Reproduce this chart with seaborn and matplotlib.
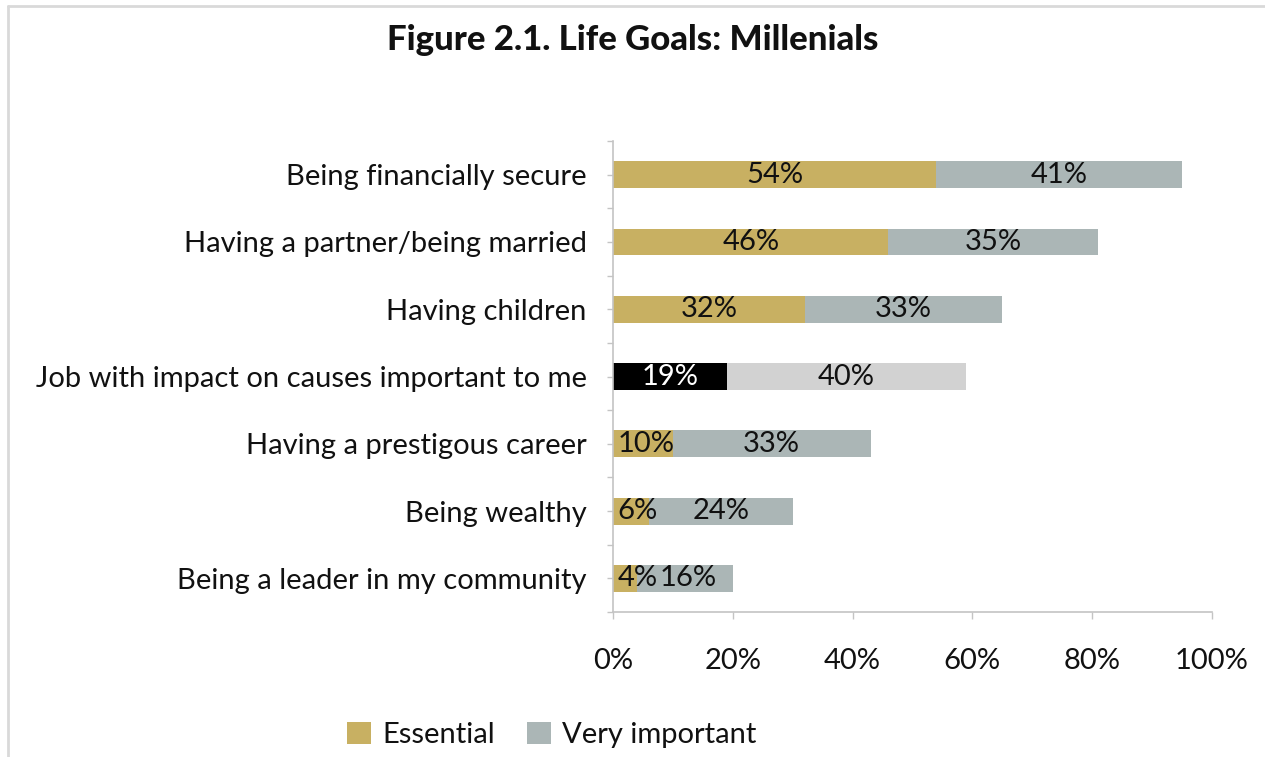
import matplotlib
matplotlib.use("Agg")
import matplotlib.pyplot as plt
from matplotlib.patches import Patch
from matplotlib.lines import Line2D
from matplotlib.ticker import FixedLocator, PercentFormatter
import seaborn as sns
import pandas as pd

# Survey data: share of millennials rating each life goal
categories = [
    "Being financially secure",
    "Having a partner/being married",
    "Having children",
    "Job with impact on causes important to me",
    "Having a prestigous career",
    "Being wealthy",
    "Being a leader in my community",
]
essential = [54, 46, 32, 19, 10, 6, 4]
very_important = [41, 35, 33, 40, 33, 24, 16]
highlight = "Job with impact on causes important to me"

GOLD = "#c8b062"
TEAL_GREY = "#abb6b6"
BLACK = "#000000"
LIGHT_GREY = "#d2d2d2"
AXIS_GREY = "#c4c4c4"
TEXT = "#111111"
FS = 21

df = pd.DataFrame({
    "category": categories,
    "essential": essential,
    "very_important": very_important,
})
df["total"] = df["essential"] + df["very_important"]

sns.set_theme(style="white")
plt.rcParams["font.family"] = ["Lato", "DejaVu Sans"]

fig = plt.figure(figsize=(12.65, 7.57), dpi=100)
ax = fig.add_axes([0.4846, 0.1915, 0.958 - 0.4846, 0.8137 - 0.1915])

total_colors = {c: (LIGHT_GREY if c == highlight else TEAL_GREY) for c in categories}
ess_colors = {c: (BLACK if c == highlight else GOLD) for c in categories}

# Stacked horizontal bars: full total first, then the "Essential" part on top
sns.barplot(data=df, x="total", y="category", hue="category", palette=total_colors,
            order=categories, orient="h", width=0.4, legend=False, ax=ax,
            linewidth=0, saturation=1)
sns.barplot(data=df, x="essential", y="category", hue="category", palette=ess_colors,
            order=categories, orient="h", width=0.4, legend=False, ax=ax,
            linewidth=0, saturation=1)

# Value labels inside each segment
for i, row in df.iterrows():
    e, v = row["essential"], row["very_important"]
    is_hl = row["category"] == highlight
    if e < 12:
        ax.text(0.8, i, f"{e}%", ha="left", va="center", fontsize=FS, color=TEXT)
    else:
        ax.text(e / 2, i, f"{e}%", ha="center", va="center", fontsize=FS,
                color="white" if is_hl else TEXT)
    vx = e + v / 2
    if v < 20:
        vx += 0.6
    ax.text(vx, i, f"{v}%", ha="center", va="center", fontsize=FS, color=TEXT)

ax.set_xlim(0, 100)
ax.set_ylim(len(categories) - 0.5, -0.5)
ax.set_xlabel("")
ax.set_ylabel("")
ax.xaxis.set_major_locator(FixedLocator([0, 20, 40, 60, 80, 100]))
ax.xaxis.set_major_formatter(PercentFormatter(decimals=0))
ax.yaxis.set_minor_locator(FixedLocator([k + 0.5 for k in range(-1, len(categories))]))

for side in ["top", "right"]:
    ax.spines[side].set_visible(False)
for side in ["left", "bottom"]:
    ax.spines[side].set_color(AXIS_GREY)
    ax.spines[side].set_linewidth(1.2)

ax.tick_params(axis="x", which="major", direction="out", length=5, width=1,
               color=AXIS_GREY, labelsize=FS, labelcolor=TEXT, pad=21, bottom=True)
ax.tick_params(axis="y", which="both", direction="out", length=4, width=1,
               color=AXIS_GREY, left=True)
ax.tick_params(axis="y", which="major", labelsize=FS, labelcolor=TEXT, pad=15)

fig.text(0.5, 1 - 40 / 757, "Figure 2.1. Life Goals: Millenials", ha="center", va="center",
         fontsize=25, fontweight="black", color=TEXT)

handles = [Patch(facecolor=GOLD, edgecolor="none", label="Essential"),
           Patch(facecolor=TEAL_GREY, edgecolor="none", label="Very important")]
fig.legend(handles=handles, loc="center", bbox_to_anchor=(552 / 1265, 1 - 735 / 757),
           ncol=2, frameon=False, fontsize=FS, handlelength=0.8, handleheight=0.8,
           handletextpad=0.4, columnspacing=1.1, labelcolor=TEXT)

# Thin frame along the top and left edges of the figure
fig.add_artist(Line2D([8 / 1265, 8 / 1265], [0, 1 - 6 / 757], transform=fig.transFigure,
                      color="#d9d9d9", linewidth=2))
fig.add_artist(Line2D([8 / 1265, 1], [1 - 6 / 757, 1 - 6 / 757], transform=fig.transFigure,
                      color="#d9d9d9", linewidth=2))

fig.savefig("out.png", dpi=100, facecolor="white")
